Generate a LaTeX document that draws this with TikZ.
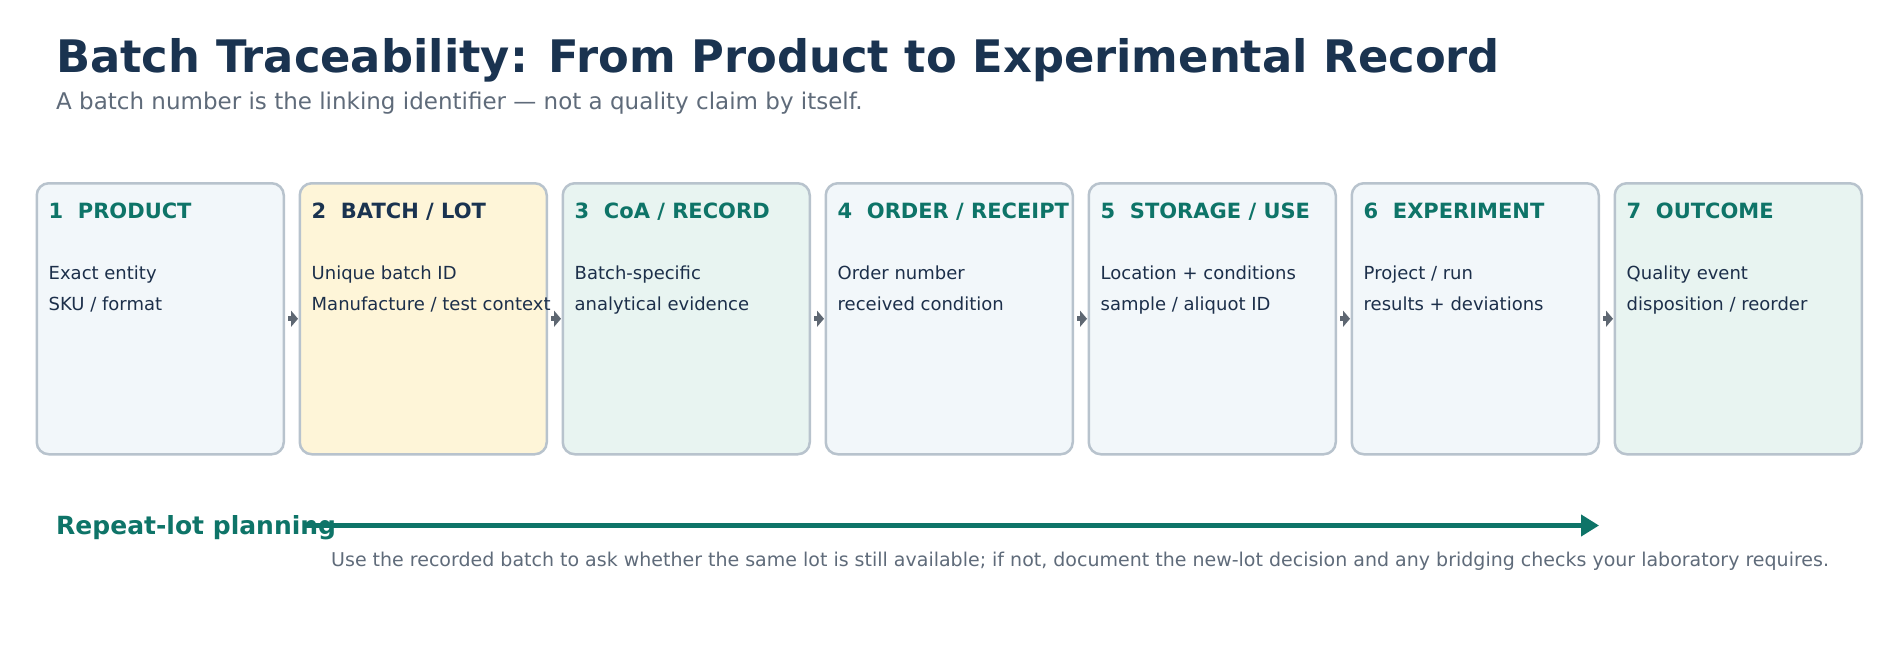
\documentclass[tikz,border=0pt]{standalone}
\usepackage{fontspec}
\setmainfont{DejaVu Sans}
\usetikzlibrary{arrows.meta}
\definecolor{navy}{HTML}{1A3350}
\definecolor{subgray}{HTML}{5F6B7A}
\definecolor{tealc}{HTML}{0E7468}
\definecolor{bodytext}{HTML}{1C2F4A}
\definecolor{cardline}{HTML}{B8C3CD}
\definecolor{fillblue}{HTML}{F2F7FA}
\definecolor{fillcream}{HTML}{FEF5D8}
\definecolor{fillteal}{HTML}{E8F4F1}
\definecolor{linkgray}{HTML}{5E6772}
\newcommand\mkcard[7]{%
  \node[card, fill=#3] (c#1) at (#2,182) {};
  \node[hdr, text=#4] (h#1) at (#2+13,218) {#5};
  \node[bodyt] (a#1) at (#2+13,279) {#6};
  \node[bodyt] (b#1) at (#2+13,310) {#7};
}
\begin{document}
\begin{tikzpicture}[x=1pt,y=-1pt,
  card/.style={draw=cardline, line width=2.5pt, rounded corners=12pt,
    minimum width=247pt, minimum height=271pt, inner sep=0pt, anchor=north west},
  hdr/.style={anchor=base west, inner sep=0pt, font=\fontsize{21}{25}\selectfont\bfseries},
  bodyt/.style={anchor=base west, inner sep=0pt, text=bodytext, font=\fontsize{18}{22}\selectfont},
  link/.style={draw=linkgray, line width=5pt, shorten <=3pt, shorten >=0.5pt,
    -{Triangle[length=7pt,width=16pt]}},
  plan/.style={draw=tealc, line width=4.3pt, -{Triangle[length=18pt,width=21pt]}}]
\useasboundingbox (0,0) rectangle (1900,650);
\fill[white] (0,0) rectangle (1900,650);
\node[anchor=base west, inner sep=0pt, text=navy, font=\fontsize{44.8}{52}\selectfont\bfseries] (title) at (56,73) {Batch Traceability: From Product to Experimental Record};
\node[anchor=base west, inner sep=0pt, text=subgray, font=\fontsize{23}{27}\selectfont] (subtitle) at (56,110) {A batch number is the linking identifier — not a quality claim by itself.};
\mkcard{1}{35.5}{fillblue}{tealc}{1\ \ PRODUCT}{Exact entity}{SKU / format}
\mkcard{2}{298.5}{fillcream}{navy}{2\ \ BATCH / LOT}{Unique batch ID}{Manufacture / test context}
\mkcard{3}{561.5}{fillteal}{tealc}{3\ \ CoA / RECORD}{Batch-specific}{analytical evidence}
\mkcard{4}{824.5}{fillblue}{tealc}{4\ \ ORDER / RECEIPT}{Order number}{received condition}
\mkcard{5}{1087.5}{fillblue}{tealc}{5\ \ STORAGE / USE}{Location + conditions}{sample / aliquot ID}
\mkcard{6}{1350.5}{fillblue}{tealc}{6\ \ EXPERIMENT}{Project / run}{results + deviations}
\mkcard{7}{1613.5}{fillteal}{tealc}{7\ \ OUTCOME}{Quality event}{disposition / reorder}
\foreach \p/\q in {1/2,2/3,3/4,4/5,5/6,6/7}{\draw[link] (c\p.east) -- (c\q.west);}
\node[anchor=base west, inner sep=0pt, text=tealc, font=\fontsize{25}{29}\selectfont\bfseries] (plan) at (56,534) {Repeat-lot planning};
\coordinate (ps) at (303,525.5);
\coordinate (pe) at (1599,525.5);
\draw[plan] (ps) -- (pe);
\node[anchor=base west, inner sep=0pt, text=subgray, font=\fontsize{19}{22}\selectfont] (note) at (331,566) {Use the recorded batch to ask whether the same lot is still available; if not, document the new-lot decision and any bridging checks your laboratory requires.};
\end{tikzpicture}
\end{document}
